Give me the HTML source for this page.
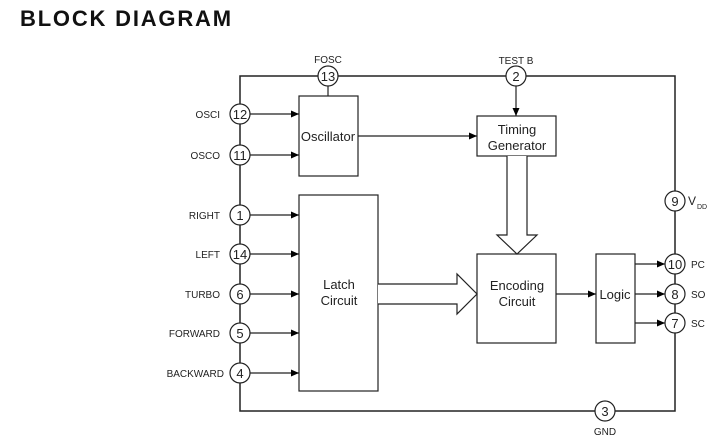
<!DOCTYPE html>
<html><head><meta charset="utf-8"><style>
html,body{margin:0;padding:0;background:#fff;width:719px;height:444px;overflow:hidden}
svg{display:block}
text{font-family:"Liberation Sans",Arial,sans-serif;fill:#222}
</style></head><body>
<svg width="719" height="444" viewBox="0 0 719 444" xmlns="http://www.w3.org/2000/svg">
<defs><marker id="a" markerWidth="8" markerHeight="8" refX="8" refY="4" orient="auto" markerUnits="userSpaceOnUse"><path d="M0,0.5 L8,4 L0,7.5z" fill="#000"/></marker></defs>
<text x="20" y="26" font-size="22" font-weight="bold" letter-spacing="1.8" style="fill:#111">BLOCK DIAGRAM</text>
<g stroke="#222" stroke-width="1.5" fill="none">
<rect x="240" y="76" width="435" height="335"/>
</g>
<g stroke="#222" stroke-width="1.2" fill="#fff">
<rect x="299" y="96" width="59" height="80"/>
<rect x="477" y="116" width="79" height="40"/>
<rect x="299" y="195" width="79" height="196"/>
<rect x="477" y="254" width="79" height="89"/>
<rect x="596" y="254" width="39" height="89"/>
</g>
<g stroke="#222" stroke-width="1.2" fill="none">
<line x1="328" y1="86" x2="328" y2="96"/>
<line x1="516" y1="86" x2="516" y2="116" marker-end="url(#a)"/>
<line x1="358" y1="136" x2="477" y2="136" marker-end="url(#a)"/>
<line x1="250" y1="114" x2="299" y2="114" marker-end="url(#a)"/>
<line x1="250" y1="155" x2="299" y2="155" marker-end="url(#a)"/>
<line x1="250" y1="215" x2="299" y2="215" marker-end="url(#a)"/>
<line x1="250" y1="254" x2="299" y2="254" marker-end="url(#a)"/>
<line x1="250" y1="294" x2="299" y2="294" marker-end="url(#a)"/>
<line x1="250" y1="333" x2="299" y2="333" marker-end="url(#a)"/>
<line x1="250" y1="373" x2="299" y2="373" marker-end="url(#a)"/>
<line x1="556" y1="294" x2="596" y2="294" marker-end="url(#a)"/>
<line x1="635" y1="264" x2="665" y2="264" marker-end="url(#a)"/>
<line x1="635" y1="294" x2="665" y2="294" marker-end="url(#a)"/>
<line x1="635" y1="323" x2="665" y2="323" marker-end="url(#a)"/>
<path d="M507,156 V235 H497 L517,254 L537,235 H527 V156" fill="#fff"/>
<path d="M378,284 H457 V274 L477,294 L457,314 V304 H378" fill="#fff"/>
</g>
<g stroke="#222" stroke-width="1.2" fill="#fff">
<circle cx="328" cy="76" r="10"/><circle cx="516" cy="76" r="10"/>
<circle cx="240" cy="114" r="10"/><circle cx="240" cy="155" r="10"/>
<circle cx="240" cy="215" r="10"/><circle cx="240" cy="254" r="10"/>
<circle cx="240" cy="294" r="10"/><circle cx="240" cy="333" r="10"/>
<circle cx="240" cy="373" r="10"/>
<circle cx="675" cy="201" r="10"/><circle cx="675" cy="264" r="10"/>
<circle cx="675" cy="294" r="10"/><circle cx="675" cy="323" r="10"/>
<circle cx="605" cy="411" r="10"/>
</g>
<g font-size="13" text-anchor="middle">
<text x="328" y="81">13</text><text x="516" y="81">2</text>
<text x="240" y="119">12</text><text x="240" y="160">11</text>
<text x="240" y="220">1</text><text x="240" y="259">14</text>
<text x="240" y="299">6</text><text x="240" y="338">5</text>
<text x="240" y="378">4</text>
<text x="675" y="206">9</text><text x="675" y="269">10</text>
<text x="675" y="299">8</text><text x="675" y="328">7</text>
<text x="605" y="416">3</text>
<text x="328" y="141">Oscillator</text>
<text x="517" y="134">Timing</text><text x="517" y="150">Generator</text>
<text x="339" y="289">Latch</text><text x="339" y="305">Circuit</text>
<text x="517" y="290">Encoding</text><text x="517" y="306">Circuit</text>
<text x="615" y="299">Logic</text>
</g>
<g font-size="10">
<text x="328" y="63" text-anchor="middle">FOSC</text>
<text x="516" y="64" text-anchor="middle">TEST B</text>
<text x="605" y="435" text-anchor="middle">GND</text>
<text x="220" y="118" text-anchor="end">OSCI</text>
<text x="220" y="159" text-anchor="end">OSCO</text>
<text x="220" y="219" text-anchor="end">RIGHT</text>
<text x="220" y="258" text-anchor="end">LEFT</text>
<text x="220" y="298" text-anchor="end">TURBO</text>
<text x="220" y="337" text-anchor="end">FORWARD</text>
<text x="224" y="377" text-anchor="end">BACKWARD</text>
<text x="691" y="268">PC</text>
<text x="691" y="298">SO</text>
<text x="691" y="327">SC</text>
<text x="688" y="205" font-size="12">V</text><text x="697" y="209" font-size="7">DD</text>
</g>
</svg>
</body></html>
